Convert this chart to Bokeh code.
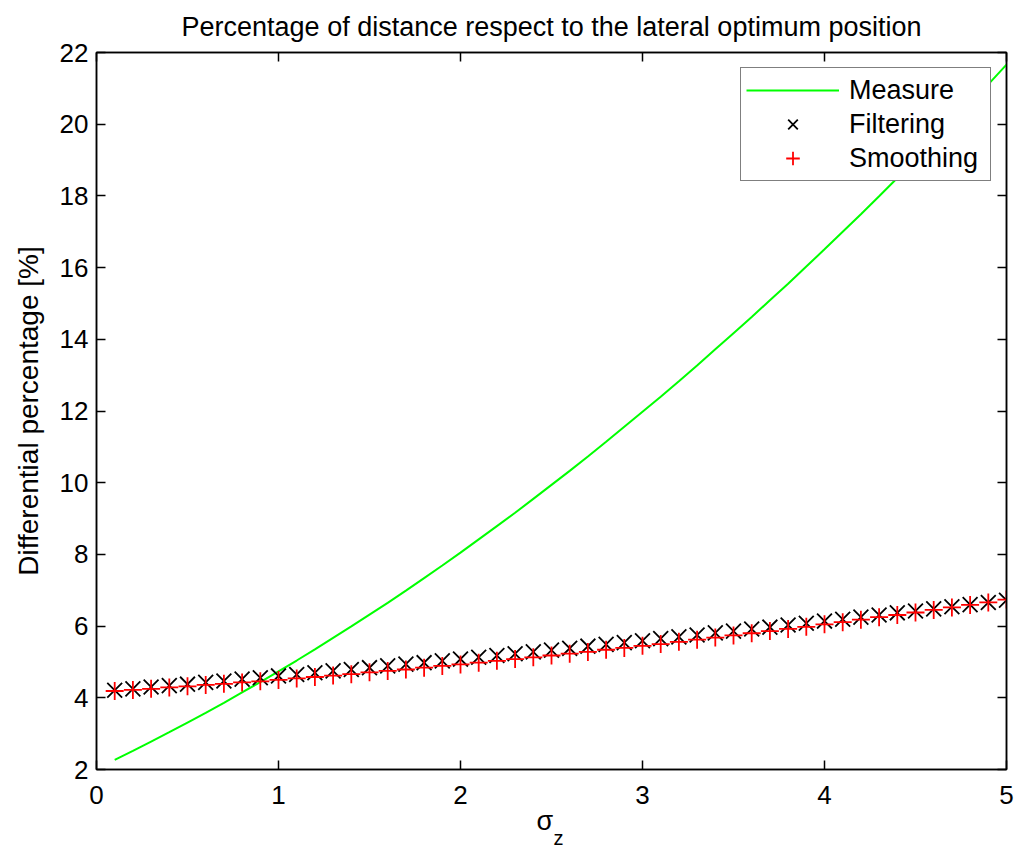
from bokeh.plotting import figure
from bokeh.models import LinearAxis, FixedTicker, Range1d, Legend, LegendItem, CustomJSTickFormatter
from bokeh.embed import file_html
from bokeh.resources import INLINE

# ---- data ----
sigma = [0.1, 0.2, 0.3, 0.4, 0.5, 0.6, 0.7, 0.8, 0.9, 1.0,
         1.1, 1.2, 1.3, 1.4, 1.5, 1.6, 1.7, 1.8, 1.9, 2.0,
         2.1, 2.2, 2.3, 2.4, 2.5, 2.6, 2.7, 2.8, 2.9, 3.0,
         3.1, 3.2, 3.3, 3.4, 3.5, 3.6, 3.7, 3.8, 3.9, 4.0,
         4.1, 4.2, 4.3, 4.4, 4.5, 4.6, 4.7, 4.8, 4.9, 5.0]
measure = [2.27, 2.52, 2.78, 3.04, 3.31, 3.58, 3.86, 4.15, 4.44, 4.74,
           5.04, 5.35, 5.67, 5.99, 6.32, 6.65, 6.99, 7.34, 7.69, 8.05,
           8.42, 8.79, 9.16, 9.55, 9.94, 10.33, 10.73, 11.14, 11.56, 11.98,
           12.40, 12.83, 13.27, 13.72, 14.17, 14.62, 15.09, 15.55, 16.03, 16.51,
           17.00, 17.49, 17.99, 18.50, 19.01, 19.52, 20.05, 20.58, 21.11, 21.66]
filtering = [4.21, 4.25, 4.30, 4.34, 4.38, 4.43, 4.47, 4.52, 4.56, 4.61,
             4.65, 4.70, 4.75, 4.79, 4.84, 4.89, 4.94, 4.98, 5.03, 5.08,
             5.13, 5.18, 5.23, 5.28, 5.33, 5.38, 5.44, 5.49, 5.54, 5.59,
             5.65, 5.70, 5.75, 5.81, 5.86, 5.92, 5.97, 6.03, 6.08, 6.14,
             6.19, 6.25, 6.31, 6.37, 6.42, 6.48, 6.54, 6.60, 6.66, 6.72]
smoothing = [4.19, 4.22, 4.25, 4.29, 4.32, 4.36, 4.39, 4.43, 4.46, 4.50,
             4.54, 4.58, 4.62, 4.66, 4.71, 4.75, 4.79, 4.84, 4.89, 4.93,
             4.98, 5.03, 5.08, 5.13, 5.18, 5.23, 5.28, 5.34, 5.39, 5.45,
             5.50, 5.56, 5.62, 5.68, 5.74, 5.80, 5.86, 5.92, 5.98, 6.05,
             6.11, 6.18, 6.25, 6.31, 6.38, 6.45, 6.52, 6.59, 6.66, 6.74]
x_ticks = [0, 1, 2, 3, 4, 5]
y_ticks = [2, 4, 6, 8, 10, 12, 14, 16, 18, 20, 22]

FONT = "Liberation Sans"

p = figure(width=1016, height=851, output_backend="svg", toolbar_location=None,
           x_range=Range1d(0, 5), y_range=Range1d(2, 22),
           min_border_left=96, min_border_right=10, min_border_top=52, min_border_bottom=82)

p.title.text = "Percentage of distance respect to the lateral optimum position"
p.title.align = "center"
p.title.vertical_align = "top"
p.title.text_font = FONT
p.title.text_font_size = "27px"
p.title.text_font_style = "normal"
p.title.text_color = "black"
p.title.standoff = 18

p.xgrid.visible = False
p.ygrid.visible = False
p.outline_line_color = "black"
p.outline_line_width = 1.5

def style_axis(ax, ticks, labels=True):
    ax.ticker = FixedTicker(ticks=ticks)
    ax.minor_tick_line_color = None
    ax.major_tick_in = 9
    ax.major_tick_out = 0
    ax.major_tick_line_color = "black"
    ax.major_tick_line_width = 1.5
    ax.axis_line_color = "black"
    ax.axis_line_width = 1.5
    ax.major_label_text_font = FONT
    ax.major_label_text_font_size = "26px"
    ax.major_label_text_color = "black"
    if not labels:
        ax.formatter = CustomJSTickFormatter(code="return '';")
        ax.major_label_standoff = 0
        ax.major_label_text_font_size = "1px"

style_axis(p.xaxis[0], x_ticks)
style_axis(p.yaxis[0], y_ticks)
p.xaxis[0].major_label_standoff = 16
p.yaxis[0].major_label_standoff = 8

p.yaxis[0].axis_label = "Differential percentage [%]"
p.yaxis[0].axis_label_text_font = FONT
p.yaxis[0].axis_label_text_font_size = "28px"
p.yaxis[0].axis_label_text_font_style = "normal"
p.yaxis[0].axis_label_text_color = "black"
p.yaxis[0].axis_label_standoff = 13

# x-axis label: sigma with subscript z (second, tickless axis carries the subscript)
p.xaxis[0].axis_label = "σ\u2002"
p.xaxis[0].axis_label_text_font = FONT
p.xaxis[0].axis_label_text_font_size = "27px"
p.xaxis[0].axis_label_text_font_style = "normal"
p.xaxis[0].axis_label_text_color = "black"
p.xaxis[0].axis_label_standoff = -1

sub_ax = LinearAxis()
style_axis(sub_ax, [], labels=False)
sub_ax.axis_line_color = None
sub_ax.major_tick_in = 0
sub_ax.axis_label = "\u2002\u2009z"
sub_ax.axis_label_text_font = FONT
sub_ax.axis_label_text_font_size = "20px"
sub_ax.axis_label_text_font_style = "normal"
sub_ax.axis_label_text_color = "black"
sub_ax.axis_label_standoff = -12
p.add_layout(sub_ax, "below")

top_ax = LinearAxis()
style_axis(top_ax, x_ticks, labels=False)
p.add_layout(top_ax, "above")
right_ax = LinearAxis()
style_axis(right_ax, y_ticks, labels=False)
p.add_layout(right_ax, "right")

r_meas = p.line(sigma, measure, line_color="#00ff00", line_width=2)
r_filt = p.scatter(sigma, filtering, marker="x", size=21, line_color="black", line_width=1.8)
r_smooth = p.scatter(sigma, smoothing, marker="cross", size=18, line_color="#ff0000", line_width=1.8)

legend = Legend(items=[LegendItem(label="Measure", renderers=[r_meas]),
                       LegendItem(label="Filtering", renderers=[r_filt]),
                       LegendItem(label="Smoothing", renderers=[r_smooth])],
                location="top_right", margin=15, padding=5, spacing=0,
                glyph_width=93, glyph_height=34, label_height=34, label_standoff=10,
                label_width=136,
                label_text_font=FONT, label_text_font_size="27px", label_text_color="black",
                border_line_color="black", border_line_width=1.2,
                background_fill_color="white", background_fill_alpha=1.0)
p.add_layout(legend, "center")

open("out.html", "w").write(file_html(p, INLINE))
